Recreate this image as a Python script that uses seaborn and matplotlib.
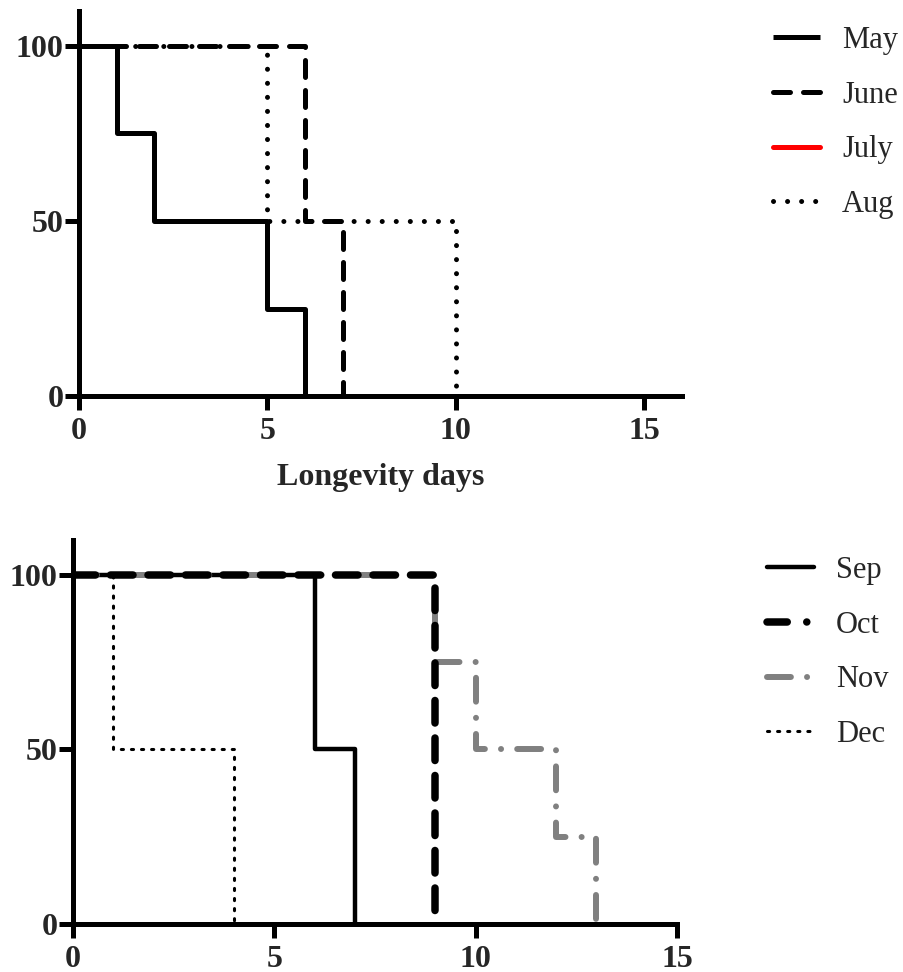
import matplotlib
matplotlib.use("Agg")
import matplotlib.pyplot as plt
from matplotlib.lines import Line2D
import seaborn as sns
import pandas as pd

# ---- data (survival %, step curves) ----
may_days = [0, 1, 2, 5, 6]
may_surv = [100, 75, 50, 25, 0]
june_days = [0, 6, 7]
june_surv = [100, 50, 0]
aug_days = [0, 5, 10]
aug_surv = [100, 50, 0]

sep_days = [0, 6, 7]
sep_surv = [100, 50, 0]
oct_days = [0, 9]
oct_surv = [100, 0]
nov_days = [0, 9, 10, 12, 13]
nov_surv = [100, 75, 50, 25, 0]
dec_days = [0, 1, 4]
dec_surv = [100, 50, 0]

x_ticks = [0, 5, 10, 15]
y_ticks = [0, 50, 100]
x_label = "Longevity days"

sns.set_style("white")
plt.rcParams["font.family"] = ["Liberation Serif", "DejaVu Serif"]

fig = plt.figure(figsize=(9.04, 9.72), dpi=100)
ax1 = fig.add_axes([79/904, 1-396/972, (682-79)/904, (396-11)/972])
ax2 = fig.add_axes([73/904, 1-924/972, (677-73)/904, (924-540)/972])

def step(ax, x, y, **kw):
    df = pd.DataFrame({"x": x, "y": y})
    sns.lineplot(data=df, x="x", y="y", ax=ax, drawstyle="steps-post",
                 estimator=None, sort=False, **kw)
    return ax.get_lines()[-1]

LW = 3.6
l_may = step(ax1, may_days, may_surv, color="black", linewidth=LW,
             solid_capstyle="butt")
l_june = step(ax1, june_days, june_surv, color="black", linewidth=LW,
              linestyle=(0, (3.4, 2.6)), dash_capstyle="round")
l_aug = step(ax1, aug_days, aug_surv, color="black", linewidth=LW,
             linestyle=(0, (0.01, 2.8)), dash_capstyle="round")
l_july = Line2D([], [], color="red", linewidth=LW)

l_dec = step(ax2, dec_days, dec_surv, color="black", linewidth=2.2,
             linestyle=(0, (0.7, 2.6)), dash_capstyle="round")
l_sep = step(ax2, sep_days, sep_surv, color="black", linewidth=3.2)
l_nov = step(ax2, nov_days, nov_surv, color="#808080", linewidth=4.3,
             linestyle=(0, (4, 2.7, 0.01, 2.7)), dash_capstyle="round")
l_oct = step(ax2, oct_days, oct_surv, color="black", linewidth=5.4,
             linestyle=(0, (3.0, 2.0)), dash_capstyle="round")
h_oct = Line2D([], [], color="black", linewidth=5.4,
               linestyle=(0, (2.7, 2.6, 0.01, 2.6)), dash_capstyle="round")

FS = 23
for ax, xmax in ((ax1, 16), (ax2, 15)):
    ax.set_xlim(0, xmax)
    ax.set_ylim(0, 110)
    ax.set_xticks(x_ticks)
    ax.set_yticks(y_ticks)
    for s in ("top", "right"):
        ax.spines[s].set_visible(False)
    for s in ("left", "bottom"):
        ax.spines[s].set_linewidth(3.6)
        ax.spines[s].set_color("black")
        ax.spines[s].set_zorder(1)
    ax.tick_params(axis="both", which="major", direction="out", length=10,
                   width=3.6, color="black", labelsize=FS, bottom=True, left=True)
    ax.tick_params(axis="y", pad=1)
    ax.tick_params(axis="x", pad=5)
    for t in ax.get_xticklabels() + ax.get_yticklabels():
        t.set_fontweight("bold")
    ax.set_ylabel("")
    ax.set_xlabel("")
    ax.grid(False)

ax1.set_xlabel(x_label, fontsize=FS, fontweight="bold", labelpad=12)

leg_kw = dict(frameon=False, fontsize=22, handlelength=1.54, handletextpad=0.72,
              labelspacing=0.84, loc="upper left", borderpad=0, borderaxespad=0)
fig.legend([l_may, l_june, l_july, l_aug], ["May", "June", "July", "Aug"],
           bbox_to_anchor=(773/904, 1-26/972), **leg_kw)
fig.legend([l_sep, h_oct, l_nov, l_dec], ["Sep", "Oct", "Nov", "Dec"],
           bbox_to_anchor=(767/904, 1-556/972), **leg_kw)

fig.savefig("out.png", dpi=100)
